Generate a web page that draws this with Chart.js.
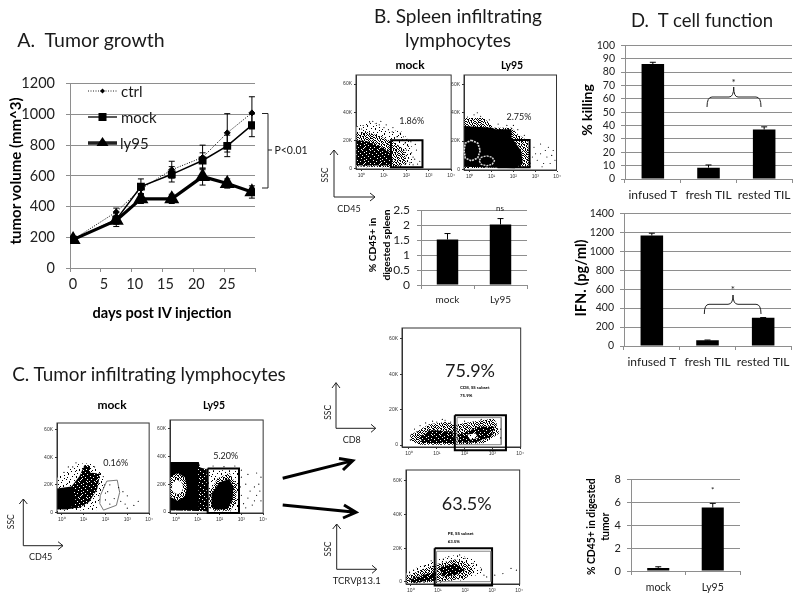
<!DOCTYPE html>
<html>
<head>
<meta charset="utf-8">
<title>Tumor figure</title>
<script src="https://cdn.jsdelivr.net/npm/chart.js@4/dist/chart.umd.min.js"></script>
<style>
  html, body { margin: 0; padding: 0; background: #fff; width: 800px; height: 603px; overflow: hidden; }
  canvas { position: absolute; filter: blur(0.3px); }
  canvas.flow { filter: blur(0.45px); }
  svg { position: absolute; left: 0; top: 0; filter: blur(0.25px); }
  svg text { font-family: Lato, sans-serif; fill: #1a1a1a; dominant-baseline: central; text-anchor: middle; white-space: pre; }
  svg .bold { font-weight: 700; fill: #000; }
  svg .ink { fill: none; stroke: #222; }
</style>
</head>
<body>
<svg width="800" height="603" style="z-index:5">
  <!-- panel titles -->
  <text font-size="19.5" x="91" y="39">A.  Tumor growth</text>
  <text font-size="19" x="458" y="15">B. Spleen infiltrating</text>
  <text font-size="19" x="458" y="39">lymphocytes</text>
  <text font-size="18.9" x="149" y="373">C. Tumor infiltrating lymphocytes</text>
  <text font-size="18.5" x="702" y="20">D.  T cell function</text>

  <!-- A: axis titles, legend, bracket -->
  <text class="bold" font-size="15" transform="translate(15,171) rotate(-90)">tumor volume (mm^3)</text>
  <text class="bold" font-size="14.6" x="162" y="312">days post IV injection</text>
  <path class="ink" stroke-dasharray="1 1.5" d="M88 91H117"/>
  <path d="M102.5 88.5l2.5 2.5l-2.5 2.5l-2.5-2.5z" fill="#000"/>
  <text x="121" y="91" font-size="15" style="text-anchor:start">ctrl</text>
  <path class="ink" stroke-width="1.5" d="M88 117H117"/>
  <rect x="98.5" y="113" width="8" height="8" fill="#000"/>
  <text x="121" y="117" font-size="15" style="text-anchor:start">mock</text>
  <path class="ink" stroke="#000" stroke-width="3.5" d="M88 143H117"/>
  <path d="M102.5 137l6 9h-12z" fill="#000"/>
  <text x="120" y="143" font-size="15" style="text-anchor:start">ly95</text>
  <path class="ink" stroke-width="1" d="M262 113.5H268V188H262M268 150H272"/>
  <text x="291" y="150" font-size="10.5">P&lt;0.01</text>

  <!-- B: labels around the flow plots and bar chart -->
  <text class="bold" font-size="12" x="410" y="64">mock</text>
  <text class="bold" font-size="10.5" x="512" y="65">Ly95</text>
  <text x="411.7" y="120.7" font-size="9">1.86%</text>
  <text x="519" y="116.7" font-size="9">2.75%</text>
  <path class="ink" d="M334 197V150M330 155L334 150L338 155M334 197H375M370 193L375 197L370 201"/>
  <text font-size="8.5" transform="translate(325,175) rotate(-90)">SSC</text>
  <text x="349" y="208" font-size="9">CD45</text>
  <text class="bold" font-size="10.3" transform="translate(372,245) rotate(-90)">% CD45+ in</text>
  <text class="bold" font-size="10.3" transform="translate(386,245) rotate(-90)">digested spleen</text>
  <text x="500" y="208" font-size="8">ns</text>

  <!-- C: labels and arrows -->
  <text class="bold" font-size="12" x="112" y="404">mock</text>
  <text class="bold" font-size="10.5" x="214" y="405">Ly95</text>
  <text x="115.7" y="462" font-size="9">0.16%</text>
  <text x="225.7" y="455.3" font-size="9">5.20%</text>
  <path class="ink" d="M23.3 545.7V499M19.3 504L23.3 499L27.3 504M23.3 545.7H63M58 541.7L63 545.7L58 549.7"/>
  <text font-size="8.5" transform="translate(11,521.7) rotate(-90)">SSC</text>
  <text x="40.7" y="556.7" font-size="9">CD45</text>

  <path d="M282.7 478.3L350 461.4M339 458.5L352.7 460.7L343 470" fill="none" stroke="#000" stroke-width="3"/>
  <path d="M282.7 505L353 512M344 505L356 512.3L343 518" fill="none" stroke="#000" stroke-width="3"/>

  <text x="470" y="370" font-size="18">75.9%</text>
  <text class="bold" x="460" y="387.7" font-size="4.4" style="text-anchor:start">CD8, SS subset</text>
  <text class="bold" x="460" y="395" font-size="4.4" style="text-anchor:start">75.9%</text>
  <path class="ink" d="M336 428.3V382.7M332 388L336 382.7L340 388M336 428.3H375.7M371 424.3L375.7 428.3L371 432.3"/>
  <text font-size="8.5" transform="translate(327.7,412.3) rotate(-90)">SSC</text>
  <text x="351.7" y="439.3" font-size="9">CD8</text>

  <text x="466.7" y="502.7" font-size="18">63.5%</text>
  <text class="bold" x="447.7" y="533.7" font-size="4.4" style="text-anchor:start">PE, SS subset</text>
  <text class="bold" x="447.7" y="541.3" font-size="4.4" style="text-anchor:start">63.5%</text>
  <path class="ink" d="M336.7 569.3V524M332.7 529L336.7 524L340.7 529M336.7 569.3H376.7M372 565.3L376.7 569.3L372 573.3"/>
  <text font-size="8.5" transform="translate(327.7,549) rotate(-90)">SSC</text>
  <text x="356.7" y="580.7" font-size="9.5">TCRVβ13.1</text>

  <!-- D: axis titles and braces -->
  <text class="bold" font-size="14" transform="translate(586,110) rotate(-90)">% killing</text>
  <text class="bold" font-size="14.6" transform="translate(580.7,278) rotate(-90)">IFN. (pg/ml)</text>
  <path class="ink" d="M707 107Q707 97 712 97L729 97Q733.7 97 733.7 87Q733.7 97 738 97L756 97Q761 97 761 107"/>
  <text x="733.7" y="82" font-size="10">*</text>
  <path class="ink" d="M704.3 314Q704.3 304.3 709 304.3L728 304.3Q733 304.3 733 295Q733 304.3 738 304.3L756 304.3Q761 304.3 761 314"/>
  <text x="733" y="289" font-size="10">*</text>

  <!-- bottom right bar chart -->
  <text class="bold" font-size="10.4" transform="translate(590.7,526.7) rotate(-90)">% CD45+ in digested</text>
  <text class="bold" font-size="10.4" transform="translate(605,526.7) rotate(-90)">tumor</text>
  <text x="712.7" y="490" font-size="8">*</text>
</svg>

<script>
// A. Tumor growth
const tumorDays = [0, 7, 11, 16, 21, 25, 29];
const dayTickEdges = [-0.5, 4.5, 9.5, 14.5, 19.5, 24.5, 29.5];
const ctrlVolume = [185, 365, 515, 640, 720, 880, 1010];
const ctrlError = [8, 25, 30, 55, 80, 125, 105];
const mockVolume = [185, 315, 530, 610, 700, 795, 930];
const mockError = [8, 45, 50, 50, 50, 70, 75];
const ly95Volume = [185, 310, 450, 450, 595, 550, 495];
const ly95Error = [8, 25, 30, 30, 55, 30, 40];

// B. spleen bar chart
const spleenLabels = ['mock', 'Ly95'];
const spleenValues = [1.52, 2.02];
const spleenErrors = [0.2, 0.2];

// D. T cell function
const functionLabels = ['infused T', 'fresh TIL', 'rested TIL'];
const killingValues = [86, 8.5, 37];
const killingErrors = [1.3, 2, 2];
const ifnValues = [1165, 60, 297];
const ifnErrors = [25, 3, 3];

// tumor bar chart
const tumorLabels = ['mock', 'Ly95'];
const tumorValues = [0.27, 5.55];
const tumorErrors = [0.1, 0.37];

// flow plots, x = log10 of the signal, y = SSC in thousands
const flowTicksX = [0, 1, 2, 3, 4];
const flowTicksY = [0, 20, 40, 60];

const bMockHalo = [[-.25,29.4],[.36,33.6],[.94,28.3],[1.8,26],[2.09,20],[2.25,15],[2.3,3],[1.73,.7],[-.25,.7]];
const bMockMid = [[-.25,25],[.22,26],[.79,23],[1.37,19],[1.9,14],[2,3],[1.37,.7],[-.25,1.2]];
const bMockCore = [[-.25,20],[.22,19.5],[.79,16],[1.2,12],[1.4,6],[1.2,2],[-.25,2]];
const bMockDots = [[.07,30.5],[.36,33],[.65,32],[1,29],[1.37,26],[1.73,25],[.5,33.5],[0,28],[.79,31],[1.2,27.5],[1.58,22.5],[1.87,22.5],[2.09,15.6],[2.23,11],[2.37,6.5],[2.16,4],[2.45,13],[2,9],[2.5,3],[1.94,18],[.86,33.5],[2.3,8],[2.6,5],[2.1,7],[2.3,2.5],[2,13],[2.4,17],[2.2,19],[1.4,29],[1.1,31]];
const bMockGate = [[1.31,20],[2.72,20],[2.72,.7],[1.31,.7],[1.31,20]];

const bLyHalo = [[-.26,36.3],[.66,36.3],[1.1,29.4],[1.91,29.4],[2.2,24.8],[2.65,20.2],[2.79,1.8],[-.26,.7]];
const bLyCore = [[-.26,30.6],[1.03,29.4],[1.18,28.3],[1.91,28.3],[1.91,22.5],[2.35,13.3],[2.43,4.1],[2.06,.7],[-.26,1.8]];
const bLyRingA = [[.07,20.5],[.37,18.5],[.48,13.3],[.37,8],[.07,6],[-.2,8],[-.26,13.3],[-.2,18.5],[.07,20.5]];
const bLyRingB = [[.78,9.5],[1.03,8.5],[1.13,6],[1.03,3.5],[.78,2.5],[.53,3.5],[.43,6],[.53,8.5],[.78,9.5]];
const bLyDots = [[2.94,15.6],[3.24,11],[3.53,8.7],[3.82,13.3],[3.09,6.4],[3.38,4.1],[3.68,4.1],[2.87,8.7],[3.24,17.9],[3.6,15.6],[3.9,6.4],[3.01,11],[3.46,13.3],[2.75,4.1],[3.75,9.8],[3.31,1.8],[-.1,37],[.2,38.5],[.5,37.5],[.9,35],[1.3,32],[1.7,31],[2,31],[2.2,28],[2.5,24],[.35,40]];
const bLyGate = [[1.32,20.7],[2.74,20.7],[2.74,1.4],[1.32,1.4],[1.32,20.7]];

const cMockHalo = [[-.22,25],[.22,30.8],[.81,35.5],[1.32,35.5],[1.84,28.5],[1.99,19.2],[1.69,7.5],[1.69,1.6],[-.22,.9]];
const cMockMid = [[-.22,15],[.44,18.7],[.81,26.2],[1.03,34.3],[1.29,34.3],[1.29,29],[1.76,28],[1.62,16.8],[1.25,7.5],[.81,3.3],[.22,2.3],[-.22,2.3]];
const cMockCore = [[-.22,17.3],[.44,18.7],[.63,11],[.59,5.1],[.22,2.3],[-.22,2.3]];
const cMockOval = [[1.76,12.1],[2.06,22.7],[2.54,23.4],[2.65,14.5],[2.5,5.1],[1.91,1.6],[1.74,6.3],[1.76,12.1]];
const cMockDots = [[2.1,15],[2.4,10],[2.7,8],[3,12],[2.2,6],[3.3,5],[2.6,18],[2.8,15],[3.5,8],[3,3],[1.95,20],[2,9],[2.2,20],[2.9,6],[.5,33],[.1,29],[.3,33],[.65,36],[1.5,33],[1.9,26],[2,14]];

const cLyMid = [[-.28,35.8],[1.04,35.8],[1.11,31.9],[1.41,30.7],[1.45,.5],[-.28,1.2]];
const cLyCore = [[-.28,35.8],[1,35.8],[1.05,1.5],[-.28,1.2]];
const cLyRing = [[.07,28],[.4,25],[.5,18],[.4,11],[.07,8],[-.28,11],[-.28,25]];
const cLyHole = [[.07,23],[.27,21],[.32,18],[.27,14.5],[.07,12.5],[-.15,14.5],[-.2,18],[-.15,21]];
const cLyGateHalo = [[1.48,30],[2.85,30],[2.85,.5],[1.48,.5]];
const cLyBlobHalo = [[1.52,3],[1.52,14],[1.9,24],[2.45,28],[2.8,19],[2.75,7],[2.5,1],[1.8,1]];
const cLyBlob = [[1.63,4],[1.63,13.3],[2,21.4],[2.44,23.7],[2.64,17.9],[2.59,8.6],[2.37,2.1],[1.85,1.6]];
const cLyDots = [[3,25],[3.2,20],[3.4,15],[3.6,18],[3,12],[3.3,10],[3.7,12],[3.8,20],[3.9,8],[3.1,6],[3.5,5],[3.7,28],[3.9,25],[3.3,27],[2.95,18],[3.6,8],[3.85,15],[3.2,3],[1.7,33],[2.2,32.5],[2.7,33],[3,30]];
const cLyGate = [[1.45,31.2],[2.89,31.2],[2.89,-.7],[1.45,-.7],[1.45,31.2]];

const cd8Mid = [[.05,5.7],[.73,11.7],[1.32,13],[1.67,11.5],[2.38,13.5],[3.08,15],[3.25,6.6],[2.73,1.2],[1.79,.2],[.38,.2],[.05,2.5]];
const cd8CoreA = [[.38,4.8],[.73,8.5],[1.55,7.6],[1.67,1.1],[.49,1.1]];
const cd8CoreB = [[1.79,5.7],[2.5,10.3],[3.08,10.3],[2.96,4.8],[2.38,1.5],[1.79,1.5]];
const cd8Hole = [[2.1,6],[2.4,6.5],[2.5,4],[2.2,3]];
const cd8Dots = [[.05,3],[.2,9],[.4,11],[.6,12.5],[1,13],[1.3,14],[1.5,13],[.1,6],[3.3,9],[3.3,4],[1.2,14.5],[.3,7.5],[.85,13.5],[2,13.5],[2.6,14.5],[3.15,12]];
const cd8Inner = [[1.73,15.5],[3.32,15.5],[3.32,.2],[1.73,.2],[1.73,15.5]];
const cd8Gate = [[1.65,16.8],[3.49,16.8],[3.49,-2.9],[1.65,-2.9],[1.65,16.8]];

const tcrHalo = [[-.18,5],[.33,9.5],[.93,13],[1.65,16],[2.3,14],[2.7,6],[2,1.2],[1.05,-.5],[-.18,-1]];
const tcrMid = [[-.18,3.1],[.33,7],[.93,10.5],[1.65,13.5],[2.1,11.5],[2.35,6],[2,2.1],[1.05,.2],[-.18,-.8]];
const tcrCoreA = [[1.05,8.9],[1.65,10.8],[2,7],[1.65,4.1],[1.17,3.1]];
const tcrCoreB = [[-.1,1.2],[.45,4.1],[.93,6],[.93,1.2],[.08,-.4]];
const tcrDots = [[2.6,7],[2.8,3],[3.1,4],[3.4,5],[3.7,8],[3.9,7],[2.3,11],[2,14],[1.4,15],[1.2,13.5],[.5,9.5],[.1,7],[-.05,5.5],[2.7,4],[.75,12.5],[1.8,16]];
const tcrInner = [[.95,18.2],[2.95,18.2],[2.95,.2],[.95,.2],[.95,18.2]];
const tcrGate = [[.88,19.9],[3,19.9],[3,-2.1],[.88,-2.1],[.88,19.9]];

const gridGray = '#8e8e8e';
const tickFont = size => ({ family: 'Lato, sans-serif', size: size });

// speckle tiles for the less dense parts of the dot clouds
const sparseTile = [
  '....x.......x...',
  '..........x.....',
  '.x.......x......',
  '......x......x..',
  '...x..x.........',
  '..x...........x.',
  '..........x.....',
  '....x......x....',
  '.x.........x....',
  '.......x........',
  '...x...........x',
  '...x......x.....',
  '.......x........',
  '.........x...x..',
  '.x...x..........',
  '............x...'
];
const denseTile = [
  'x.x..x.xx..x.x.x',
  '.x.xx...x.x.x.x.',
  'x...x.xx.x...x.x',
  '.xx.x..x..xx..x.',
  'x..x.x.x.x..x.xx',
  '.x...x..x.xx.x..',
  'x.xx..x.x...x.x.',
  '.x..x..x.xx..x.x',
  'xx.x.x...x.x.x..',
  '..x.x.xx..x...xx',
  'x..x...x.x.xx..x',
  '.x.xx.x..x..x.x.',
  'x.x..x.xx.x...x.',
  '.xx.x...x..xx..x',
  'x..x.xx..x.x.x..',
  '.x...x.xx.x..x.x'
];
const darkTile = [
  'xxxxxx.xxxxxxx.x',
  'xx.xxxxxxx.xxxxx',
  'xxxxxxxx.xxxxxxx',
  'xxxx.xxxxxxxx.xx',
  '.xxxxxxxxx.xxxxx',
  'xxxxxx.xxxxxxxxx',
  'xx.xxxxxxxxx.xxx',
  'xxxxxxxx.xxxxxxx',
  'xxxxx.xxxxxxxx.x',
  'xxxxxxxxxx.xxxxx',
  'x.xxxxxx.xxxxxxx',
  'xxxx.xxxxxxx.xxx',
  'xxxxxxxxx.xxxxxx',
  'xx.xxxxx.xxxxx.x',
  'xxxxxxx.xxxxxxxx',
  '.xxxx.xxxxxxx.xx'
];

function makeTile(rows) {
  const tile = document.createElement('canvas');
  tile.width = rows[0].length;
  tile.height = rows.length;
  const c = tile.getContext('2d');
  c.fillStyle = '#fff';
  c.fillRect(0, 0, tile.width, tile.height);
  c.fillStyle = '#000';
  rows.forEach((row, y) => {
    [...row].forEach((ch, x) => { if (ch === 'x') c.fillRect(x, y, 1, 1); });
  });
  return c.createPattern(tile, 'repeat');
}
const sparseFill = makeTile(sparseTile);
const denseFill = makeTile(denseTile);
const darkFill = makeTile(darkTile);

// error bars, stored per dataset as errorUp / errorDown
const errorBarPlugin = {
  id: 'errorBars',
  afterDatasetsDraw(chart) {
    const ctx = chart.ctx;
    const yScale = chart.scales.y;
    chart.data.datasets.forEach((ds, i) => {
      const meta = chart.getDatasetMeta(i);
      ctx.save();
      ctx.strokeStyle = '#000';
      ctx.lineWidth = 1;
      ds.data.forEach((val, k) => {
        const v = typeof val === 'object' ? val.y : val;
        const x = meta.data[k].x;
        const top = yScale.getPixelForValue(v + ds.errorUp[k]);
        const bottom = yScale.getPixelForValue(v - (ds.errorDown ? ds.errorDown[k] : 0));
        ctx.beginPath();
        ctx.moveTo(x, bottom); ctx.lineTo(x, top);
        ctx.moveTo(x - 3, top); ctx.lineTo(x + 3, top);
        if (ds.errorDown) { ctx.moveTo(x - 3, bottom); ctx.lineTo(x + 3, bottom); }
        ctx.stroke();
      });
      ctx.restore();
    });
  }
};

// fills the datasets flagged polygonFill, frames the plot box
const flowPlugin = {
  id: 'flowShapes',
  beforeDatasetsDraw(chart) {
    const ctx = chart.ctx;
    const { left, top, width, height } = chart.chartArea;
    ctx.save();
    ctx.beginPath();
    ctx.rect(left, top, width, height);
    ctx.clip();
    chart.data.datasets.forEach((ds, i) => {
      if (!ds.polygonFill) return;
      const pts = chart.getDatasetMeta(i).data;
      ctx.beginPath();
      pts.forEach((p, k) => { k ? ctx.lineTo(p.x, p.y) : ctx.moveTo(p.x, p.y); });
      ctx.closePath();
      ctx.fillStyle = ds.polygonFill;
      ctx.fill();
    });
    ctx.restore();
    ctx.save();
    ctx.strokeStyle = '#333';
    ctx.lineWidth = 1;
    ctx.strokeRect(left, top, width, height);
    ctx.restore();
  }
};

function addCanvas(plot, m, cls) {
  const canvas = document.createElement('canvas');
  canvas.width = plot.w + m.l + m.r;
  canvas.height = plot.h + m.t + m.b;
  canvas.style.left = (plot.x - m.l) + 'px';
  canvas.style.top = (plot.y - m.t) + 'px';
  if (cls) canvas.className = cls;
  document.body.appendChild(canvas);
  return canvas.getContext('2d');
}

function plotOptions(m, scales) {
  scales.x.afterFit = s => { s.height = m.b; };
  scales.y.afterFit = s => { s.width = m.l; };
  return {
    responsive: false,
    animation: false,
    devicePixelRatio: 1,
    layout: { autoPadding: false, padding: { top: m.t, right: m.r, left: 0, bottom: 0 } },
    plugins: { legend: { display: false }, tooltip: { enabled: false } },
    scales: scales
  };
}

function barChart(plot, labels, values, errors, yMax, yStep, fonts, pad) {
  const m = { l: 45, r: 6, t: 8, b: 30 };
  return new Chart(addCanvas(plot, m), {
    type: 'bar',
    plugins: [errorBarPlugin],
    data: {
      labels: labels,
      datasets: [{
        data: values,
        backgroundColor: '#000',
        barPercentage: 0.405,
        categoryPercentage: 1,
        errorUp: errors
      }]
    },
    options: plotOptions(m, {
      x: {
        grid: { drawOnChartArea: false, color: gridGray, tickLength: 4 },
        border: { color: gridGray },
        ticks: { font: tickFont(fonts.x), color: '#222', padding: pad.x, maxRotation: 0, autoSkip: false }
      },
      y: {
        min: 0, max: yMax,
        grid: { color: gridGray, tickLength: 4 },
        border: { color: gridGray },
        ticks: { stepSize: yStep, autoSkip: false, font: tickFont(fonts.y), color: '#222', padding: pad.y, callback: v => String(v) }
      }
    })
  });
}

function pairs(list) { return list.map(p => ({ x: p[0], y: p[1] })); }
function fillLayer(list, fill) {
  return { data: pairs(list), polygonFill: fill, showLine: false, pointRadius: 0 };
}
function lineLayer(list, color, width, dash) {
  return { data: pairs(list), showLine: true, borderColor: color, borderWidth: width, borderDash: dash || [], pointRadius: 0, clip: false };
}
function dotLayer(list) {
  return { data: pairs(list), showLine: false, pointRadius: 0.6, pointBackgroundColor: '#000', pointBorderWidth: 0 };
}

function flowChart(plot, xRange, yRange, layers) {
  const m = { l: 16, r: 3, t: 3, b: 14 };
  const font = { family: 'Liberation Sans, sans-serif', size: 5 };
  return new Chart(addCanvas(plot, m, 'flow'), {
    type: 'scatter',
    plugins: [flowPlugin],
    data: { datasets: layers },
    options: plotOptions(m, {
      x: {
        type: 'linear', min: xRange[0], max: xRange[1],
        afterBuildTicks: s => { s.ticks = flowTicksX.map(v => ({ value: v })); },
        grid: { drawOnChartArea: false, color: '#333', tickLength: 2 },
        border: { color: '#333' },
        ticks: { font: font, color: '#333', padding: 2, maxRotation: 0, callback: v => '10' + '⁰¹²³⁴'[v] }
      },
      y: {
        type: 'linear', min: yRange[0], max: yRange[1],
        afterBuildTicks: s => { s.ticks = flowTicksY.map(v => ({ value: v })); },
        grid: { drawOnChartArea: false, color: '#333', tickLength: 2 },
        border: { color: '#333' },
        ticks: { font: font, color: '#333', padding: 2, callback: v => v ? v + 'K' : '0' }
      }
    })
  });
}

document.addEventListener('DOMContentLoaded', function() {
  // A. Tumor growth
  const mA = { l: 52, r: 6, t: 8, b: 30 };
  new Chart(addCanvas({ x: 70, y: 71.7, w: 185, h: 196.6 }, mA), {
    type: 'line',
    plugins: [errorBarPlugin],
    data: {
      datasets: [
        {
          label: 'ctrl', data: tumorDays.map((d, i) => ({ x: d, y: ctrlVolume[i] })),
          borderColor: '#000', borderWidth: 1, borderDash: [1, 1.5],
          pointStyle: 'rectRot', pointRadius: 3, pointBackgroundColor: '#000', pointBorderColor: '#000',
          errorUp: ctrlError, errorDown: ctrlError
        },
        {
          label: 'mock', data: tumorDays.map((d, i) => ({ x: d, y: mockVolume[i] })),
          borderColor: '#000', borderWidth: 1.5,
          pointStyle: 'rect', pointRadius: 4.5, pointBackgroundColor: '#000', pointBorderColor: '#000',
          errorUp: mockError, errorDown: mockError
        },
        {
          label: 'ly95', data: tumorDays.map((d, i) => ({ x: d, y: ly95Volume[i] })),
          borderColor: '#000', borderWidth: 3.2,
          pointStyle: 'triangle', pointRadius: 5.5, pointBackgroundColor: '#000', pointBorderColor: '#000',
          errorUp: ly95Error, errorDown: ly95Error
        }
      ]
    },
    options: plotOptions(mA, {
      x: {
        type: 'linear', min: -0.5, max: 29.5,
        afterBuildTicks: s => { s.ticks = dayTickEdges.map(v => ({ value: v })); },
        grid: { drawOnChartArea: false, color: gridGray, tickLength: 4 },
        border: { color: gridGray },
        ticks: {
          font: tickFont(14.5), color: '#222', padding: 4, labelOffset: 3, maxRotation: 0,
          callback: v => v < 29 ? String(v + 0.5) : ''
        }
      },
      y: {
        min: 0, max: 1200,
        grid: { color: gridGray, tickLength: 4 },
        border: { color: gridGray },
        ticks: { stepSize: 200, font: tickFont(14.5), color: '#222', padding: 11, callback: v => String(v) }
      }
    })
  });

  // bar charts
  barChart({ x: 420.7, y: 204, w: 106.3, h: 81.3 }, spleenLabels, spleenValues, spleenErrors, 2.5, 0.5, { x: 10, y: 12 }, { x: 5, y: 7 });
  barChart({ x: 625, y: 41.3, w: 167.7, h: 138.4 }, functionLabels, killingValues, killingErrors, 100, 10, { x: 12, y: 10.5 }, { x: 5, y: 6 });
  barChart({ x: 624.3, y: 209.3, w: 167.4, h: 137.4 }, functionLabels, ifnValues, ifnErrors, 1400, 200, { x: 12, y: 10.5 }, { x: 5, y: 6 });
  barChart({ x: 631.3, y: 475.3, w: 109, h: 96 }, tumorLabels, tumorValues, tumorErrors, 8, 2, { x: 10.5, y: 11 }, { x: 6, y: 6 });

  // flow plots
  flowChart({ x: 356, y: 73.3, w: 98, h: 96.7 }, [-0.25, 4], [-0.5, 66.5], [
    fillLayer(bMockHalo, sparseFill), fillLayer(bMockMid, denseFill), fillLayer(bMockCore, darkFill),
    dotLayer(bMockDots), lineLayer(bMockGate, '#000', 2)
  ]);
  flowChart({ x: 464, y: 72.7, w: 96, h: 97.3 }, [-0.26, 3.97], [-0.5, 66.7], [
    fillLayer(bLyHalo, denseFill), fillLayer(bLyCore, '#000'),
    lineLayer(bLyRingA, '#ddd', 1.6, [2, 1]), lineLayer(bLyRingB, '#ddd', 1.4, [2, 1]),
    dotLayer(bLyDots), lineLayer(bLyGate, '#000', 2)
  ]);
  flowChart({ x: 56.7, y: 420.7, w: 95.6, h: 92.6 }, [-0.22, 4], [-0.5, 65], [
    fillLayer(cMockHalo, sparseFill), fillLayer(cMockMid, darkFill), fillLayer(cMockCore, '#000'),
    dotLayer(cMockDots), lineLayer(cMockOval, '#555', 0.8)
  ]);
  flowChart({ x: 170.3, y: 417.7, w: 96.4, h: 95.6 }, [-0.28, 4], [-0.7, 66], [
    fillLayer(cLyMid, darkFill), fillLayer(cLyCore, '#000'), fillLayer(cLyRing, denseFill), fillLayer(cLyHole, '#fff'),
    fillLayer(cLyGateHalo, sparseFill), fillLayer(cLyBlobHalo, denseFill), fillLayer(cLyBlob, '#000'),
    dotLayer(cLyDots), lineLayer(cLyGate, '#000', 2)
  ]);
  flowChart({ x: 402.3, y: 325.7, w: 121, h: 121.6 }, [-0.25, 4.02], [-1.1, 66.1], [
    fillLayer(cd8Mid, denseFill), fillLayer(cd8CoreA, darkFill), fillLayer(cd8CoreB, darkFill), fillLayer(cd8Hole, sparseFill),
    dotLayer(cd8Dots), lineLayer(cd8Inner, '#888', 1), lineLayer(cd8Gate, '#000', 2)
  ]);
  flowChart({ x: 406, y: 467.7, w: 116.3, h: 116.3 }, [-0.18, 4.02], [-1.2, 66.3], [
    fillLayer(tcrHalo, sparseFill), fillLayer(tcrMid, denseFill), fillLayer(tcrCoreA, darkFill), fillLayer(tcrCoreB, darkFill),
    dotLayer(tcrDots), lineLayer(tcrInner, '#888', 1), lineLayer(tcrGate, '#000', 2)
  ]);
});
</script>
</body>
</html>
